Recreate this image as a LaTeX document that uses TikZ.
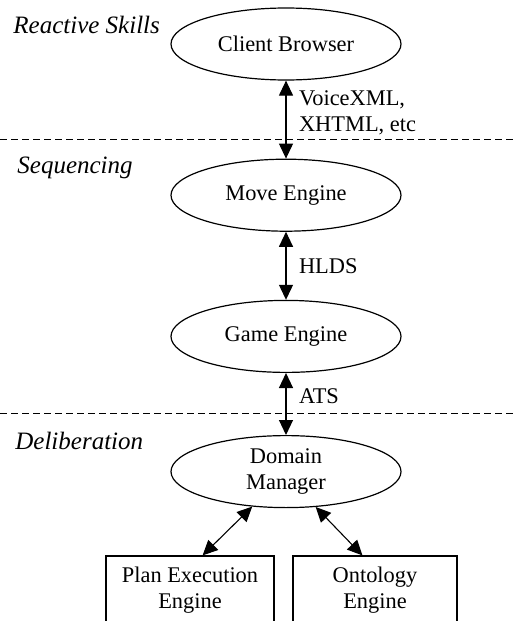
\documentclass[tikz,border=0pt]{standalone}
\usepackage{fontspec}
\setmainfont{Liberation Serif}
\usetikzlibrary{positioning,arrows.meta,calc,shapes.geometric}
\tikzset{
  proc/.style={draw, ellipse, line width=0.6pt, inner sep=0pt, minimum width=115pt, minimum height=36pt, align=center},
  box/.style={draw, rectangle, line width=0.6pt, inner sep=0pt, minimum width=84pt, minimum height=34pt, align=center},
  arrow/.style={{Triangle[length=7.5pt,width=7pt]}-{Triangle[length=7.5pt,width=7pt]}, line width=0.55pt},
  divider/.style={dashed, dash pattern=on 3.5pt off 2pt, line width=0.5pt},
  layer/.style={font=\fontsize{12.5}{14}\selectfont\itshape, anchor=west, inner sep=0pt},
  lbl/.style={align=left}
}

\begin{document}
\begin{tikzpicture}[x=0.5pt, y=-0.5pt, font=\fontsize{11.2}{13.2}\selectfont]
    \useasboundingbox (0,0) rectangle (513,621);
    \clip (0,0) rectangle (513,621);
    % layers
    \node[layer] (reactive) at (13,25) {Reactive Skills};
    \node[layer] (sequencing) at (17,168) {Sequencing};
    \node[layer] (deliberation) at (15,441) {Deliberation};
    \coordinate (d1l) at (0,139);
    \coordinate (d1r) at (513,139);
    \coordinate (d2l) at (0,413);
    \coordinate (d2r) at (513,413);
    \draw[divider] (d1l) -- (d1r);
    \draw[divider] (d2l) -- (d2r);
    % components
    \node[proc] (client) at (286,44) {Client Browser};
    \node[proc, below=39pt of client] (move) {Move Engine};
    \node[proc, below=34pt of move] (game) {Game Engine};
    \node[proc, below=31pt of game] (domain) {Domain\\Manager};
    \node[box] (plan) at (190,590) {Plan Execution\\Engine};
    \node[box, minimum width=82pt] (onto) at (375,590) {Ontology\\Engine};
    \draw[arrow] (client) -- (move);
    \draw[arrow] (move) -- (game);
    \draw[arrow] (game) -- (domain);
    \draw[arrow] (domain.226) -- (plan.70);
    \draw[arrow] (domain.310) -- (onto.110);
    % protocols
    \node[lbl, right=3pt of $(client)!0.5!(move)$, yshift=3.5pt] (voice) {VoiceXML,\\XHTML, etc};
    \node[lbl, right=3pt of $(move)!0.5!(game)$] (hlds) {HLDS};
    \node[lbl, right=3pt of $(game)!0.5!(domain)$, yshift=4pt] (ats) {ATS};
  \end{tikzpicture}
\end{document}
